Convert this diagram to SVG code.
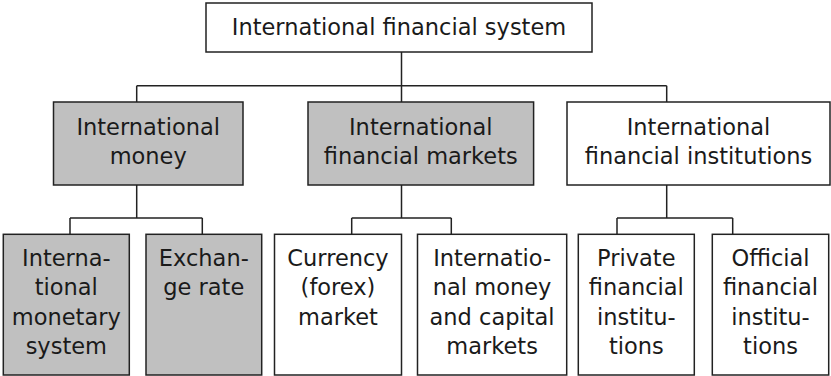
<svg xmlns="http://www.w3.org/2000/svg" width="831" height="376" viewBox="0 0 831 376">
<style>
.box{stroke:#222;stroke-width:1.5;fill:#fff}
.gray{fill:#c0c0c0}
.t{font-family:"DejaVu Sans","Liberation Sans",sans-serif;font-size:22.5px;fill:#1a1a1a;text-anchor:middle}
.c{stroke:#222;stroke-width:1.5;fill:none}
</style>
<rect width="831" height="376" fill="#fff"/>
<g id="connectors">
<path class="c" d="M401.5,52 V85.7 M136.7,85.7 H666.7 M136.7,85.7 V102 M401.5,85.7 V102 M666.7,85.7 V102"/>
<path class="c" d="M136.7,185 V218 M70,218 H202.3 M70,218 V234.3 M202.3,218 V234.3"/>
<path class="c" d="M401.5,185 V218 M351.7,218 H451.3 M351.7,218 V234.3 M451.3,218 V234.3"/>
<path class="c" d="M666.7,185 V218 M617,218 H732.7 M617,218 V234.3 M732.7,218 V234.3"/>
</g>
<g id="root">
<rect class="box" x="206" y="3" width="386" height="49"/>
<text class="t" x="399" y="35">International financial system</text>
</g>
<g id="money">
<rect class="box gray" x="53.5" y="102" width="189.5" height="83"/>
<text class="t" x="148.2" y="134.5">International</text>
<text class="t" x="148.2" y="163.5">money</text>
</g>
<g id="markets">
<rect class="box gray" x="308" y="102" width="225.6" height="83"/>
<text class="t" x="420.8" y="134.5">International</text>
<text class="t" x="420.8" y="163.5">financial markets</text>
</g>
<g id="institutions">
<rect class="box" x="567" y="102" width="263" height="83"/>
<text class="t" x="698.5" y="134.5">International</text>
<text class="t" x="698.5" y="163.5">financial institutions</text>
</g>
<g id="monetary-system">
<rect class="box gray" x="3.3" y="234.3" width="126" height="140.7"/>
<text class="t" x="66.3" y="266">Interna-</text>
<text class="t" x="66.3" y="295.3">tional</text>
<text class="t" x="66.3" y="324.6">monetary</text>
<text class="t" x="66.3" y="354">system</text>
</g>
<g id="exchange-rate">
<rect class="box gray" x="146" y="234.3" width="115.7" height="140.7"/>
<text class="t" x="203.8" y="266">Exchan-</text>
<text class="t" x="203.8" y="295.3">ge rate</text>
</g>
<g id="forex">
<rect class="box" x="274.5" y="234.3" width="127" height="140.7"/>
<text class="t" x="338" y="266">Currency</text>
<text class="t" x="338" y="295.3">(forex)</text>
<text class="t" x="338" y="324.6">market</text>
</g>
<g id="capital-markets">
<rect class="box" x="417.5" y="234.3" width="149.2" height="140.7"/>
<text class="t" x="492.1" y="266">Internatio-</text>
<text class="t" x="492.1" y="295.3">nal money</text>
<text class="t" x="492.1" y="324.6">and capital</text>
<text class="t" x="492.1" y="354">markets</text>
</g>
<g id="private">
<rect class="box" x="578.3" y="234.3" width="116" height="140.7"/>
<text class="t" x="636.3" y="266">Private</text>
<text class="t" x="636.3" y="295.3">financial</text>
<text class="t" x="636.3" y="324.6">institu-</text>
<text class="t" x="636.3" y="354">tions</text>
</g>
<g id="official">
<rect class="box" x="712.3" y="234.3" width="116.4" height="140.7"/>
<text class="t" x="770.5" y="266">Official</text>
<text class="t" x="770.5" y="295.3">financial</text>
<text class="t" x="770.5" y="324.6">institu-</text>
<text class="t" x="770.5" y="354">tions</text>
</g>
</svg>
